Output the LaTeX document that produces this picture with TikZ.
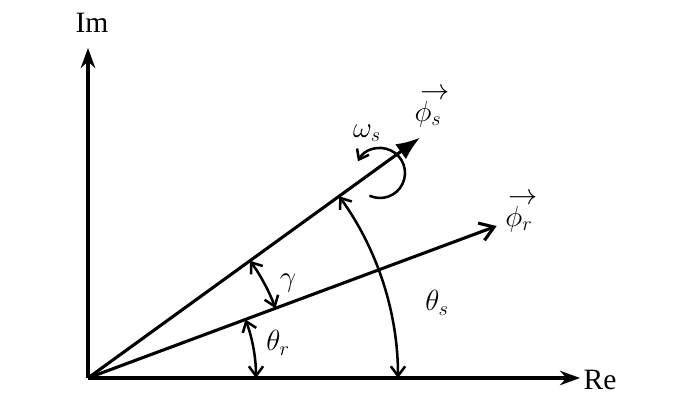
\documentclass[tikz,border=0pt]{standalone}
\usepackage{fontspec}
\setmainfont{Liberation Serif}
\usetikzlibrary{arrows.meta}

\begin{document}
\begin{tikzpicture}[
    x=0.025cm, y=0.025cm,
    achse/.style={-{Stealth[length=5mm, width=3.6mm]}, line width=2.8pt},
    zeiger/.style={line width=2.2pt},
    winkel/.style={{Straight Barb[length=2.4mm, width=3.6mm]}-{Straight Barb[length=2.4mm, width=3.6mm]}, line width=1.8pt},
    beschr/.style={inner sep=0pt, font=\fontsize{21}{24}\selectfont},
    vekt/.style={beschr, align=center, font=\fontsize{21}{14}\selectfont}
  ]
    \useasboundingbox (-88,-27) rectangle (588,378);
    % achsen
    \coordinate (O)   at (0,0);
    \coordinate (imE) at (0,330);
    \coordinate (reE) at (492,0);
    \draw[achse] (O) -- (imE);
    \draw[achse] (O) -- (reE);
    \node[beschr] (im) at (4,355) {Im};
    \node[beschr] (re) at (512,-2) {Re};
    % flussvektoren
    \coordinate (phiS) at (35.9:410);
    \coordinate (phiR) at (20.4:436);
    \draw[zeiger, -{Latex[length=6mm, width=4.6mm]}] (O) -- (phiS);
    \draw[zeiger, -{Straight Barb[length=3.4mm, width=4.6mm]}] (O) -- (phiR);
    \node[vekt] (lphiS) at (340,270) {\hspace*{0.5em}$\rightarrow$\\$\phi_s$};
    \node[vekt] (lphiR) at (431,165) {\hspace*{0.3em}$\rightarrow$\\$\phi_r$};
    % winkel
    \draw[winkel] (20.4:200) arc[start angle=20.4, end angle=35.9, radius=200];
    \draw[winkel] (0:168) arc[start angle=0, end angle=20.4, radius=168];
    \draw[winkel] (0:310) arc[start angle=0, end angle=35.9, radius=310];
    \node[beschr] (lgam) at (200,95) {$\gamma$};
    \node[beschr] (lthR) at (190,35) {$\theta_r$};
    \node[beschr] (lthS) at (349,75) {$\theta_s$};
    % drehung
    \draw[line width=1.8pt, -{Straight Barb[length=2.2mm, width=3.4mm]}]
      (292,205) ++(-115:25) arc[start angle=-115, end angle=152, radius=25];
    \node[beschr] (lom) at (279,245) {$\omega_s$};
\end{tikzpicture}
\end{document}
